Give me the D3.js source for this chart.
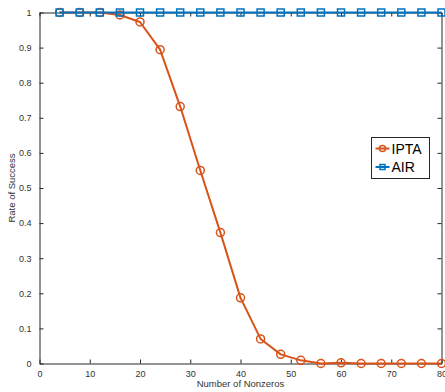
<!DOCTYPE html>
<html>
<head>
<meta charset="utf-8">
<script src="https://cdn.jsdelivr.net/npm/d3@7"></script>
<style>
  body { margin: 0; background: #fff; }
  text { font-family: "Liberation Sans", Arial, sans-serif; }
</style>
</head>
<body>
<div id="chart"></div>
<script>
var nonzeros = [4, 8, 12, 16, 20, 24, 28, 32, 36, 40, 44, 48, 52, 56, 60, 64, 68, 72, 76, 80];
var ipta = [1, 1, 1, 0.993, 0.973, 0.894, 0.732, 0.55, 0.373, 0.187, 0.07, 0.026, 0.009, 0, 0.002, 0, 0, 0, 0, 0];
var air = [1, 1, 1, 1, 1, 1, 1, 1, 1, 1, 1, 1, 1, 1, 1, 1, 1, 1, 1, 1];
var xTicks = [0, 10, 20, 30, 40, 50, 60, 70, 80];
var yTicks = [0, 0.1, 0.2, 0.3, 0.4, 0.5, 0.6, 0.7, 0.8, 0.9, 1];
var seriesNames = ['IPTA', 'AIR'];
var seriesColors = ['#D95319', '#0072BD'];

var W = 445, H = 392;
var plotL = 39.5, plotR = 441.5, plotT = 12.5, plotB = 363.5;

var svg = d3.select('#chart').append('svg')
            .attr('width', W)
            .attr('height', H);

var x = d3.scaleLinear().domain([0, 80]).range([plotL, plotR]);
var y = d3.scaleLinear().domain([0, 1]).range([plotB, plotT]);

var axisColor = '#262626';
var tickLen = 4;

// bottom axis
var xAxis = d3.axisBottom(x).tickValues(xTicks).tickSizeInner(-tickLen).tickSizeOuter(0).tickPadding(7)
              .tickFormat(d3.format('d'));
svg.append('g').attr('transform', 'translate(0,' + plotB + ')').call(xAxis);
// top axis (box)
svg.append('g').attr('transform', 'translate(0,' + plotT + ')')
   .call(d3.axisTop(x).tickValues(xTicks).tickSizeInner(-tickLen).tickSizeOuter(0).tickFormat(''));
// left axis
var yAxis = d3.axisLeft(y).tickValues(yTicks).tickSizeInner(-tickLen).tickSizeOuter(0).tickPadding(8)
              .tickFormat(function(d) { return d === 0 || d === 1 ? d : d3.format('.1f')(d); });
svg.append('g').attr('transform', 'translate(' + plotL + ',0)').call(yAxis);
// right axis (box)
svg.append('g').attr('transform', 'translate(' + plotR + ',0)')
   .call(d3.axisRight(y).tickValues(yTicks).tickSizeInner(-tickLen).tickSizeOuter(0).tickFormat(''));

svg.selectAll('.domain').attr('stroke', axisColor).attr('stroke-width', 1);
svg.selectAll('.tick line').attr('stroke', axisColor);
svg.selectAll('.tick text').attr('fill', '#333').style('font-size', '9px')
   .style('font-family', '"Liberation Sans", Arial, sans-serif');

// axis labels
svg.append('text')
   .attr('x', (plotL + plotR) / 2).attr('y', 387)
   .attr('text-anchor', 'middle')
   .attr('fill', '#333')
   .style('font-size', '9.5px')
   .text('Number of Nonzeros');
svg.append('text')
   .attr('transform', 'translate(15,' + ((plotT + plotB) / 2) + ') rotate(-90)')
   .attr('text-anchor', 'middle')
   .attr('fill', '#333')
   .style('font-size', '9.5px')
   .text('Rate of Success');

var line = d3.line()
             .x(function(d) { return x(d[0]); })
             .y(function(d) { return y(d[1]); });

var iptaData = nonzeros.map(function(n, i) { return [n, ipta[i]]; });
var airData = nonzeros.map(function(n, i) { return [n, air[i]]; });

// IPTA
svg.append('path').datum(iptaData)
   .attr('fill', 'none').attr('stroke', seriesColors[0]).attr('stroke-width', 2)
   .attr('stroke-linejoin', 'round')
   .attr('d', line);
svg.selectAll('.ipta-pt').data(iptaData).enter().append('circle')
   .attr('class', 'ipta-pt')
   .attr('cx', function(d) { return x(d[0]); })
   .attr('cy', function(d) { return y(d[1]); })
   .attr('r', 4)
   .attr('fill', 'none')
   .attr('stroke', seriesColors[0]).attr('stroke-width', 1.5);

// AIR
svg.append('path').datum(airData)
   .attr('fill', 'none').attr('stroke', seriesColors[1]).attr('stroke-width', 2)
   .attr('d', line);
svg.selectAll('.air-pt').data(airData).enter().append('rect')
   .attr('class', 'air-pt')
   .attr('x', function(d) { return x(d[0]) - 3.5; })
   .attr('y', function(d) { return y(d[1]) - 3.5; })
   .attr('width', 7).attr('height', 7)
   .attr('fill', 'none')
   .attr('stroke', seriesColors[1]).attr('stroke-width', 1.5);

// legend
var lg = svg.append('g').attr('transform', 'translate(371.5,137.5)');
lg.append('rect').attr('width', 58).attr('height', 41)
  .attr('fill', '#fff').attr('stroke', axisColor).attr('stroke-width', 1);
seriesNames.forEach(function(name, i) {
  var cy = 11 + i * 18.5;
  lg.append('line').attr('x1', 4).attr('x2', 18).attr('y1', cy).attr('y2', cy)
    .attr('stroke', seriesColors[i]).attr('stroke-width', 2);
  if (i === 0) {
    lg.append('circle').attr('cx', 11).attr('cy', cy).attr('r', 3)
      .attr('fill', 'none').attr('stroke', seriesColors[i]).attr('stroke-width', 1.5);
  } else {
    lg.append('rect').attr('x', 8.5).attr('y', cy - 2.5).attr('width', 5).attr('height', 5)
      .attr('fill', 'none').attr('stroke', seriesColors[i]).attr('stroke-width', 1.5);
  }
  lg.append('text').attr('x', 20).attr('y', cy + 5)
    .attr('fill', '#000').style('font-size', '14px')
    .text(name);
});
</script>
</body>
</html>
